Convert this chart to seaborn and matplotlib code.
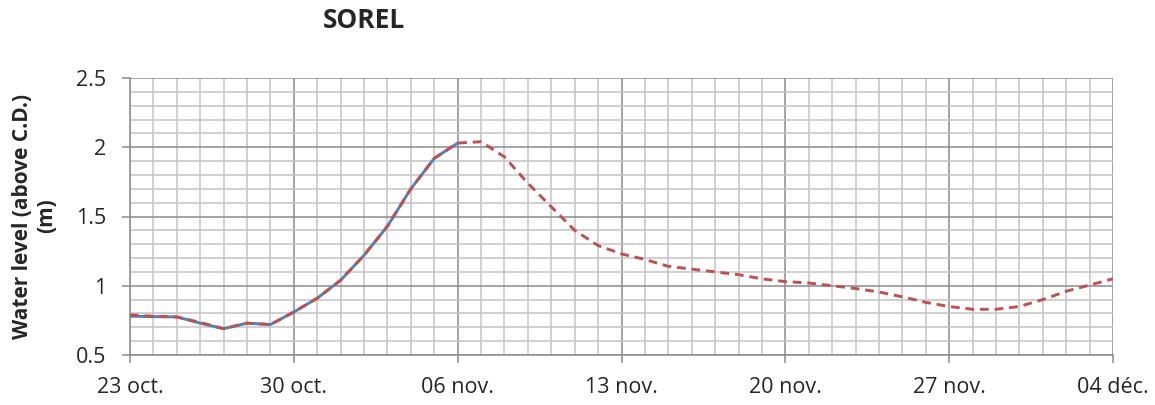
import matplotlib
matplotlib.use("Agg")
import matplotlib.pyplot as plt
import matplotlib.dates as mdates
import matplotlib.ticker as mticker
import numpy as np
import pandas as pd
import seaborn as sns

# ---- data ----
start_date = "2010-10-23"
observed_levels = [0.78, 0.777, 0.775, 0.73, 0.69, 0.73, 0.72, 0.81, 0.91,
                   1.04, 1.22, 1.43, 1.70, 1.92, 2.03]
forecast_levels = [0.79, 0.78, 0.775, 0.735, 0.69, 0.73, 0.72, 0.81, 0.91,
                   1.04, 1.22, 1.43, 1.70, 1.92, 2.03, 2.04, 1.93, 1.74,
                   1.57, 1.40, 1.29, 1.23, 1.19, 1.14, 1.12, 1.10, 1.08,
                   1.05, 1.03, 1.02, 1.00, 0.98, 0.955, 0.92, 0.88, 0.85,
                   0.83, 0.83, 0.85, 0.90, 0.96, 1.005, 1.05]
tick_labels = ["23 oct.", "30 oct.", "06 nov.", "13 nov.", "20 nov.",
               "27 nov.", "04 déc."]
title = "SOREL"
ylabel = "Water level (above C.D.)\n(m)"

obs = pd.DataFrame({"date": pd.date_range(start_date, periods=len(observed_levels), freq="D"),
                    "level": observed_levels})
fc = pd.DataFrame({"date": pd.date_range(start_date, periods=len(forecast_levels), freq="D"),
                   "level": forecast_levels})

sns.set_style("white")
plt.rcParams["font.family"] = ["Open Sans", "DejaVu Sans"]

fig = plt.figure(figsize=(11.55, 4.05), dpi=100)
ax = fig.add_axes([130 / 1155, 50 / 405, 983 / 1155, 277 / 405])

sns.lineplot(data=obs, x="date", y="level", ax=ax, color="#4F81BD",
             linewidth=2.1, zorder=3, solid_joinstyle="round")
sns.lineplot(data=fc, x="date", y="level", ax=ax, color="#C0504D",
             linewidth=2.1, linestyle=(0, (3, 2)), zorder=4,
             dash_joinstyle="round")

d0 = pd.Timestamp(start_date)
d1 = d0 + pd.Timedelta(days=42)
ax.set_xlim(d0, d1)
ax.set_ylim(0.5, 2.5)

major_dates = [d0 + pd.Timedelta(days=7 * i) for i in range(len(tick_labels))]
ax.set_xticks(major_dates)
ax.set_xticklabels(tick_labels)
ax.xaxis.set_minor_locator(mdates.DayLocator())
ax.yaxis.set_major_locator(mticker.MultipleLocator(0.5))
ax.yaxis.set_minor_locator(mticker.MultipleLocator(0.1))
ax.yaxis.set_major_formatter(mticker.FuncFormatter(lambda v, p: f"{v:g}"))

ax.grid(which="minor", color="#C4C4C4", linewidth=1.1, zorder=0)
ax.grid(which="major", color="#8C8C8C", linewidth=1.1, zorder=1)
ax.set_axisbelow(True)

for s in ["top", "right"]:
    ax.spines[s].set_visible(False)
for s in ["left", "bottom"]:
    ax.spines[s].set_color("#8C8C8C")
    ax.spines[s].set_linewidth(1.1)

ax.tick_params(axis="x", which="major", direction="out", length=6, width=1.1,
               color="#8C8C8C", labelsize=15.5, pad=10, bottom=True)
ax.tick_params(axis="y", which="major", direction="out", length=6, width=1.1,
               color="#8C8C8C", labelsize=15.5, pad=11, left=True)
ax.tick_params(which="minor", length=0)

ax.set_xlabel("")
ax.set_ylabel("")
fig.text(35 / 1155, 1 - 216 / 405, ylabel, rotation=90, ha="center",
         va="center", multialignment="center", fontsize=15,
         fontweight="bold", linespacing=1.2)

fig.text(364 / 1155, 1 - 21 / 405, title, ha="center", va="center",
         fontsize=19, fontweight="bold")

fig.savefig("out.png", dpi=100)
